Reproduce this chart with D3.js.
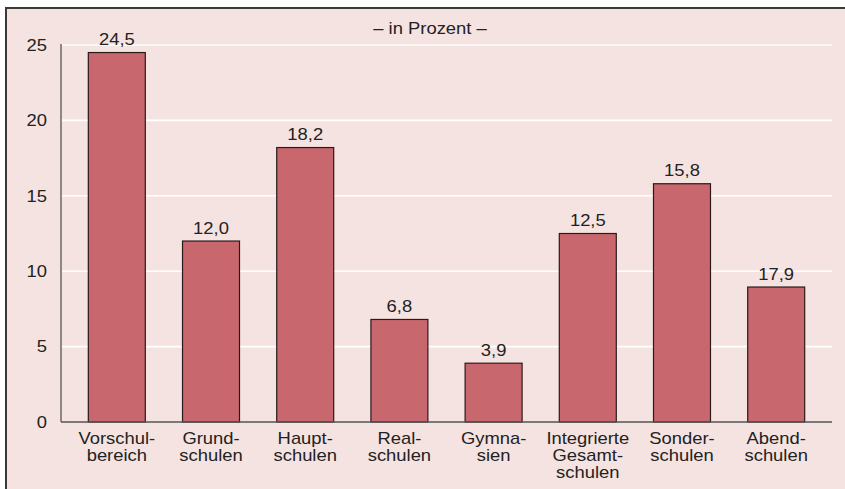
<!DOCTYPE html>
<html>
<head>
<meta charset="utf-8">
<script src="https://cdn.jsdelivr.net/npm/d3@7"></script>
<style>
body { margin: 0; background: #fff; }
svg { display: block; font-family: "Liberation Sans", Arial, sans-serif; }
.bar { fill: #c8686e; stroke: #2a1a1a; stroke-width: 1.2; }
.grid { stroke: #fff; stroke-width: 1.6; }
.lbl { fill: #222; font-size: 16px; }
</style>
</head>
<body>
<svg width="845" height="489"></svg>
<script>
const categories = [
    ["Vorschul-", "bereich"],
    ["Grund-", "schulen"],
    ["Haupt-", "schulen"],
    ["Real-", "schulen"],
    ["Gymna-", "sien"],
    ["Integrierte", "Gesamt-", "schulen"],
    ["Sonder-", "schulen"],
    ["Abend-", "schulen"]
]
// bar heights as drawn in the picture
const values = [24.5, 12.0, 18.2, 6.8, 3.9, 12.5, 15.8, 8.95]
// printed labels (the last one differs from its bar in the original)
const valueLabels = ["24,5", "12,0", "18,2", "6,8", "3,9", "12,5", "15,8", "17,9"]
const yTicks = [0, 5, 10, 15, 20, 25]
const title = "– in Prozent –"

// the original lettering is a bit wider than Arial
const stretch = 1.15
const place = (px, py) => `translate(${px}, ${py}) scale(${stretch}, 1)`

const svg = d3.select("svg")

// frame
svg.append("rect")
    .attr("x", 6).attr("y", 8)
    .attr("width", 845).attr("height", 489)
    .attr("fill", "#f5e3e1")
svg.append("line")
    .attr("x1", 5).attr("x2", 845).attr("y1", 8).attr("y2", 8)
    .attr("stroke", "#3a3a3a").attr("stroke-width", 2)
svg.append("line")
    .attr("x1", 6).attr("x2", 6).attr("y1", 7).attr("y2", 489)
    .attr("stroke", "#3a3a3a").attr("stroke-width", 2)

const y = d3.scaleLinear()
    .domain([0, 25])
    .range([422, 45])

const x = d3.scaleBand()
    .domain(d3.range(categories.length))
    .range([61, 832])
    .paddingInner(0.395)
    .paddingOuter(0.29)

// gridlines
svg.selectAll("line.grid")
    .data(yTicks.filter(d => d > 0))
    .enter()
    .append("line")
    .attr("class", "grid")
    .attr("x1", 62).attr("x2", 832)
    .attr("y1", d => y(d)).attr("y2", d => y(d))

// y tick labels
svg.selectAll("text.ytick")
    .data(yTicks)
    .enter()
    .append("text")
    .attr("class", "lbl ytick")
    .attr("transform", d => place(47, y(d) + 5.7))
    .attr("text-anchor", "end")
    .text(d => d)

svg.append("text")
    .attr("class", "lbl")
    .attr("transform", place(430, 33.5))
    .attr("text-anchor", "middle")
    .text(title)

// bars
svg.selectAll("rect.bar")
    .data(values)
    .enter()
    .append("rect")
    .attr("class", "bar")
    .attr("x", (d, i) => x(i))
    .attr("width", x.bandwidth())
    .attr("y", d => y(d))
    .attr("height", d => y(0) - y(d))

svg.selectAll("text.val")
    .data(values)
    .enter()
    .append("text")
    .attr("class", "lbl val")
    .attr("transform", (d, i) => place(x(i) + x.bandwidth() / 2, y(d) - 7.5))
    .attr("text-anchor", "middle")
    .text((d, i) => valueLabels[i])

// axes lines
svg.append("line")
    .attr("x1", 61).attr("x2", 61).attr("y1", 44).attr("y2", 422)
    .attr("stroke", "#555").attr("stroke-width", 1.3)
svg.append("line")
    .attr("x1", 61).attr("x2", 832).attr("y1", 422).attr("y2", 422)
    .attr("stroke", "#555").attr("stroke-width", 1.3)

// category labels
const catG = svg.selectAll("text.cat")
    .data(categories)
    .enter()
    .append("text")
    .attr("class", "lbl cat")
    .attr("text-anchor", "middle")
    .attr("transform", (d, i) => place(x(i) + x.bandwidth() / 2, 443.5))

catG.selectAll("tspan")
    .data(d => d)
    .enter()
    .append("tspan")
    .attr("x", 0)
    .attr("y", (d, i) => i * 17.5)
    .text(d => d)
</script>
</body>
</html>
